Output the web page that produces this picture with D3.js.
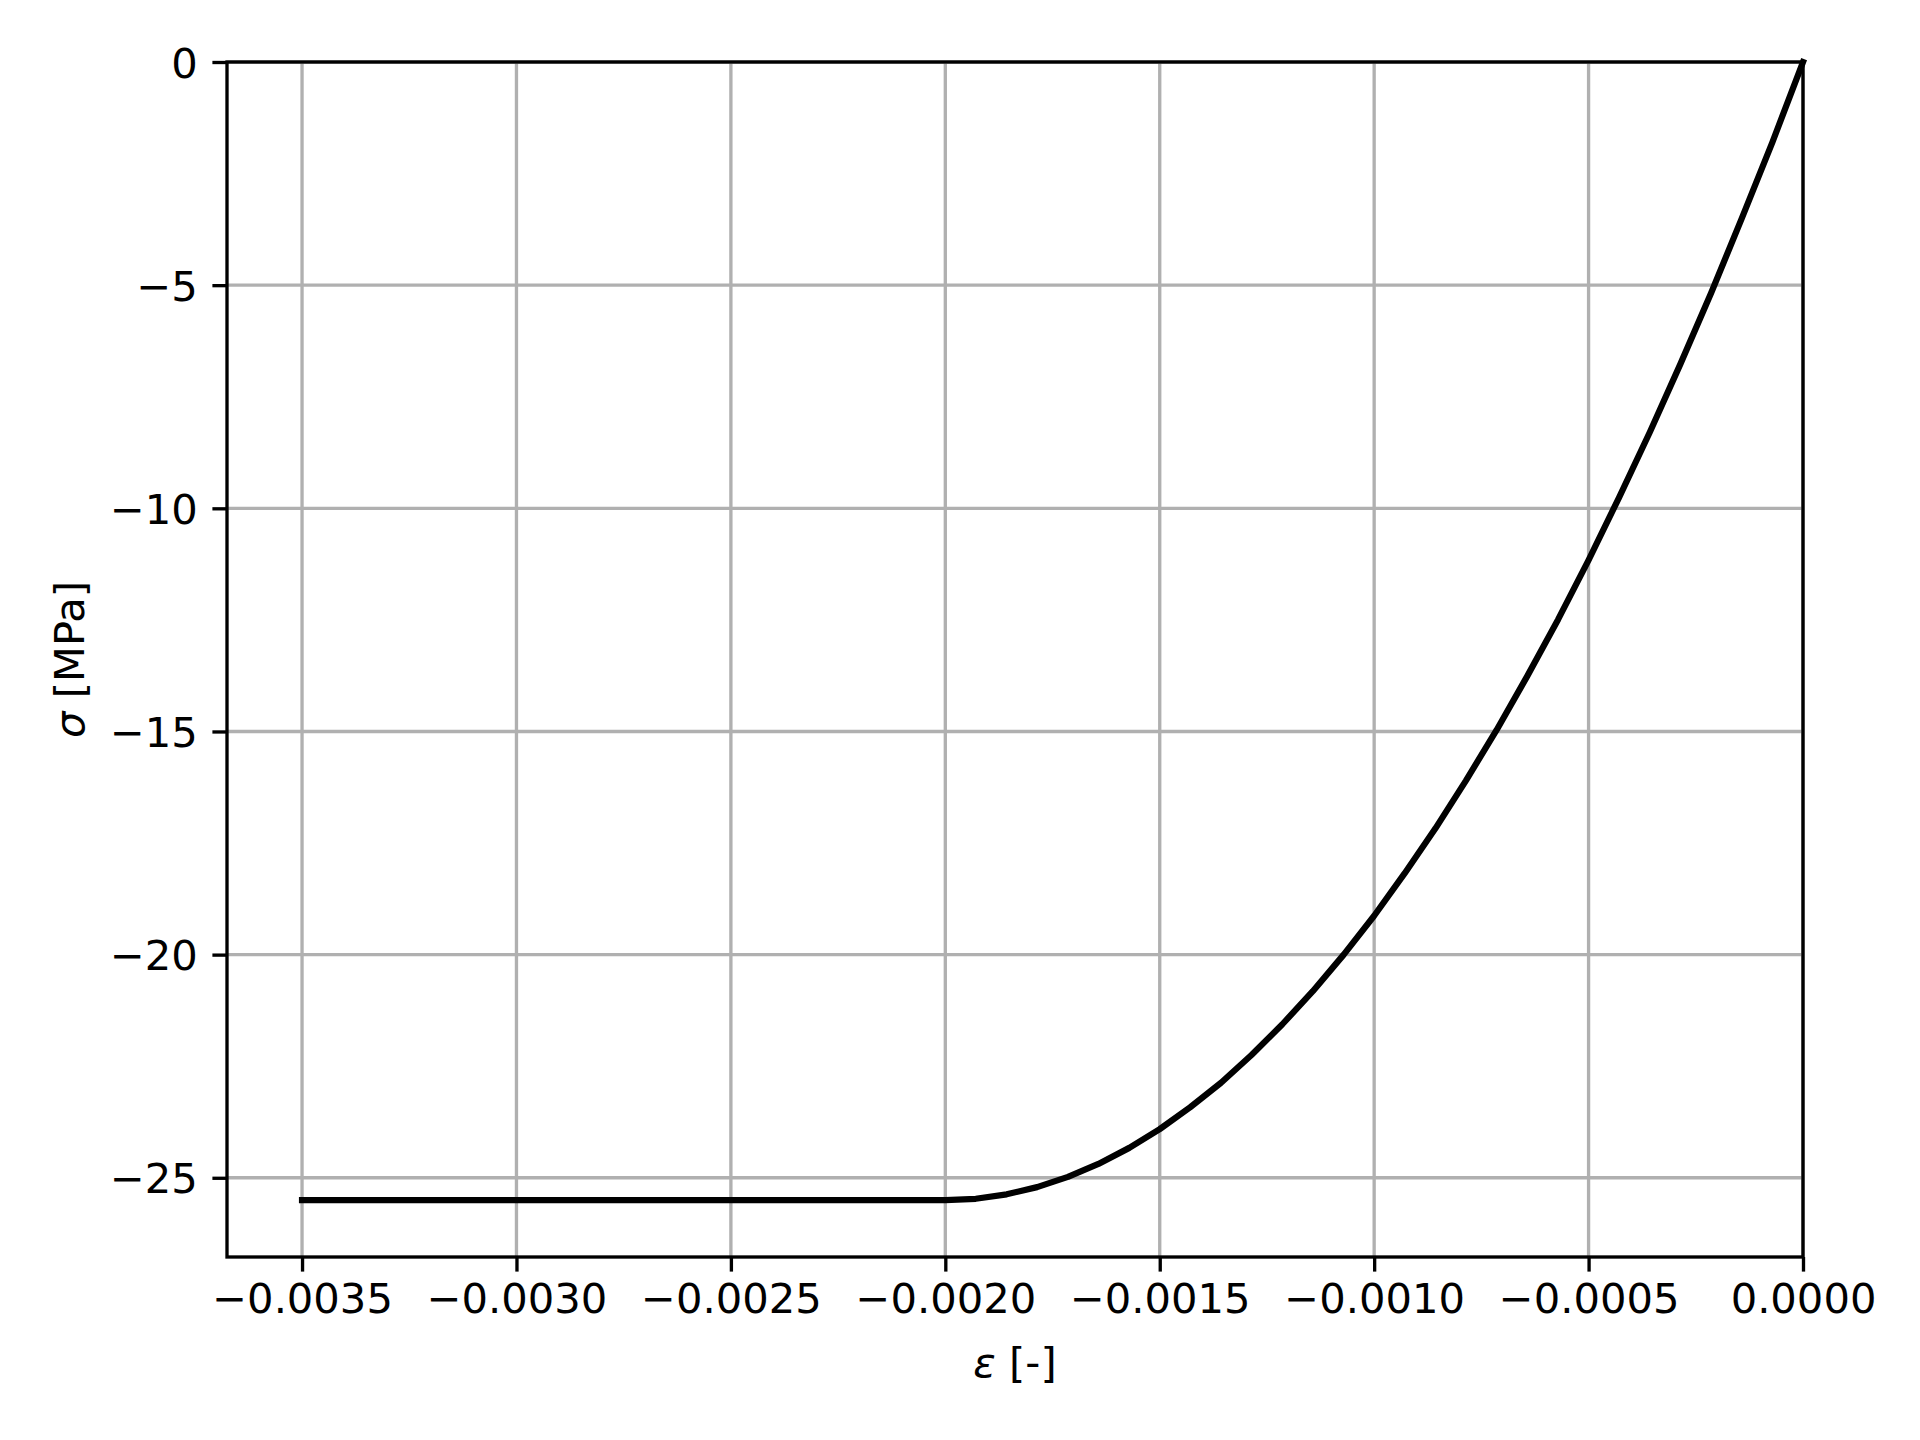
<!DOCTYPE html>
<html>
<head>
<meta charset="utf-8">
<script src="https://cdn.jsdelivr.net/npm/d3@7"></script>
<style>
  body { margin: 0; background: #fff; }
  text { font-family: "DejaVu Sans", sans-serif; fill: #000; }
</style>
</head>
<body>
<svg id="drawing_region"></svg>
<script>
// strain values (x) and stress values (y)
const strain = [
  -0.003500, -0.003429, -0.003357, -0.003286, -0.003214, -0.003143, -0.003071, -0.003000,
  -0.002929, -0.002857, -0.002786, -0.002714, -0.002643, -0.002571, -0.002500, -0.002429,
  -0.002357, -0.002286, -0.002214, -0.002143, -0.002071, -0.002000, -0.001929, -0.001857,
  -0.001786, -0.001714, -0.001643, -0.001571, -0.001500, -0.001429, -0.001357, -0.001286,
  -0.001214, -0.001143, -0.001071, -0.001000, -0.000929, -0.000857, -0.000786, -0.000714,
  -0.000643, -0.000571, -0.000500, -0.000429, -0.000357, -0.000286, -0.000214, -0.000143,
  -0.000071, 0.000000
];
const stress = [
  -25.50, -25.50, -25.50, -25.50, -25.50, -25.50, -25.50, -25.50,
  -25.50, -25.50, -25.50, -25.50, -25.50, -25.50, -25.50, -25.50,
  -25.50, -25.50, -25.50, -25.50, -25.50, -25.50, -25.47, -25.37,
  -25.21, -24.98, -24.69, -24.33, -23.91, -23.42, -22.87, -22.25,
  -21.56, -20.82, -20.00, -19.13, -18.18, -17.17, -16.10, -14.96,
  -13.76, -12.49, -11.16, -9.76, -8.29, -6.77, -5.17, -3.51,
  -1.79, 0.00
];
const x_ticks = [-0.0035, -0.0030, -0.0025, -0.0020, -0.0015, -0.0010, -0.0005, 0.0000];
const y_ticks = [0, -5, -10, -15, -20, -25];
const x_label = "ε [-]";
const y_label = "σ [MPa]";

const config = {
  width: 1920, height: 1440,
  margin: {top: 62, right: 117, bottom: 183, left: 227}
};
const fs = 41.67;
const minus = s => s.replace(/-/g, "\u2212");

const svg = d3.select("#drawing_region")
  .attr("width", config.width)
  .attr("height", config.height);
const chart = svg.append("g")
  .attr("transform", `translate(${config.margin.left}, ${config.margin.top})`);
const inner_width = config.width - config.margin.left - config.margin.right;
const inner_height = config.height - config.margin.top - config.margin.bottom;

const xpad = (d3.max(strain) - d3.min(strain)) * 0.05;
const ypad = (d3.max(stress) - d3.min(stress)) * 0.05;
const xscale = d3.scaleLinear()
  .domain([d3.min(strain) - xpad, 0])
  .range([0, inner_width]);
const yscale = d3.scaleLinear()
  .domain([d3.min(stress) - ypad, 0])
  .range([inner_height, 0]);

// grid
chart.append("g").selectAll("line").data(x_ticks).join("line")
  .attr("x1", d => xscale(d)).attr("x2", d => xscale(d))
  .attr("y1", 0).attr("y2", inner_height)
  .attr("stroke", "#b0b0b0").attr("stroke-width", 3.33);
chart.append("g").selectAll("line").data(y_ticks).join("line")
  .attr("y1", d => yscale(d)).attr("y2", d => yscale(d))
  .attr("x1", 0).attr("x2", inner_width)
  .attr("stroke", "#b0b0b0").attr("stroke-width", 3.33);

// curve
const line = d3.line()
  .x((d, i) => xscale(strain[i]))
  .y(d => yscale(d));
chart.append("path")
  .datum(stress)
  .attr("d", line)
  .attr("fill", "none")
  .attr("stroke", "#000")
  .attr("stroke-width", 6.25)
  .attr("stroke-linejoin", "round")
  .attr("stroke-linecap", "square");

// axes
const xaxis = d3.axisBottom(xscale)
  .tickValues(x_ticks)
  .tickSize(14.6).tickPadding(12)
  .tickSizeOuter(0)
  .tickFormat(d => minus(d3.format(".4f")(d)));
const yaxis = d3.axisLeft(yscale)
  .tickValues(y_ticks)
  .tickSize(14.6).tickPadding(14.6)
  .tickSizeOuter(0)
  .tickFormat(d => minus(d3.format("d")(d)));

const xg = chart.append("g")
  .attr("transform", `translate(0, ${inner_height})`)
  .call(xaxis);
const yg = chart.append("g").call(yaxis);
[xg, yg].forEach(g => {
  g.select(".domain").remove();
  g.selectAll(".tick line").attr("stroke", "#000").attr("stroke-width", 3.33);
  g.selectAll(".tick text")
    .style("font-family", "'DejaVu Sans', sans-serif")
    .style("font-size", fs + "px")
    .attr("fill", "#000");
});
xg.selectAll(".tick text").attr("dy", "0.71em");
yg.selectAll(".tick text").attr("dy", "0.36em");

// spines
chart.append("rect")
  .attr("width", inner_width).attr("height", inner_height)
  .attr("fill", "none").attr("stroke", "#000").attr("stroke-width", 3.33);

// labels
svg.append("text")
  .attr("x", config.margin.left + inner_width / 2)
  .attr("y", 1377)
  .attr("text-anchor", "middle")
  .style("font-size", fs + "px")
  .html('<tspan font-style="italic">ε</tspan> [-]');
svg.append("text")
  .attr("transform", `translate(84, ${config.margin.top + inner_height / 2}) rotate(-90)`)
  .attr("text-anchor", "middle")
  .style("font-size", fs + "px")
  .html('<tspan font-style="italic">σ</tspan> [MPa]');
</script>
</body>
</html>
